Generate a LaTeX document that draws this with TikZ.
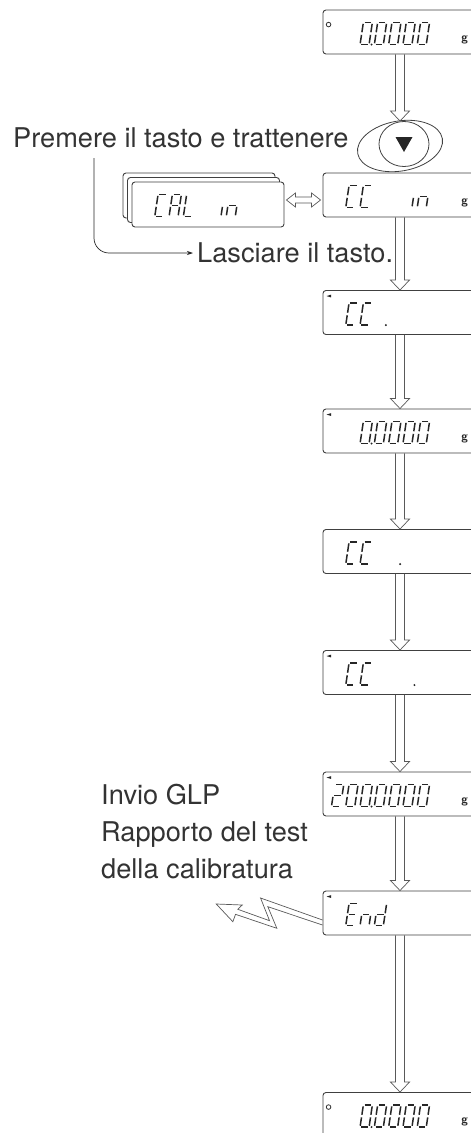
\documentclass[tikz,border=0pt]{standalone}
\usepackage{fontspec}
\setmainfont{TeX Gyre Heros}
\usetikzlibrary{shapes.geometric,arrows.meta,calc}
\def\sga{(1.3,22)--(7.7,22)}
\def\sgb{(9,20.7)--(9,12.3)}
\def\sgc{(9,9.7)--(9,1.3)}
\def\sgd{(1.3,0)--(7.7,0)}
\def\sge{(0,1.3)--(0,9.7)}
\def\sgf{(0,12.3)--(0,20.7)}
\def\sgg{(1.3,11)--(7.7,11)}
\newcommand\lcddig[2]{\begin{scope}[shift={(#1,-35)},xslant=0.15]\foreach \s in {#2}{\draw[seg] \csname sg\s\endcsname;}\end{scope}}
\newcommand\lcddot[1]{\fill[black!85] (#1,-35) circle (1.1pt);}
\newcommand\lcdring{\draw[line width=0.8pt,black!80] (6,-15) circle (2.3pt);}
\newcommand\lcdtick{\fill[black!85] (4,-6) -- (8.5,-4.6) -- (8.5,-7.4) -- cycle;}
\newcommand\lcdunit{\node[font=\sffamily\bfseries\fontsize{12}{12}\selectfont,inner sep=0pt,text=black!85] at (142,-30) {g};}
\newcommand\lcdzero{\lcddig{37.5}{a,b,c,d,e,f}\lcddot{49}\lcddig{51.8}{a,b,c,d,e,f}\lcddig{66.1}{a,b,c,d,e,f}\lcddig{80.4}{a,b,c,d,e,f}\lcddig{94.7}{a,b,c,d,e,f}}
\newcommand\lcdcc{\lcddig{23.2}{a,d,e,f}\lcddig{37.5}{a,d,e,f}}
\newcommand\downarr[2]{\draw[arr] let \p1=(#1.south), \p2=(#2.north) in (\x1-4.5pt,\y1) -- (\x1-4.5pt,\y2+10pt) -- (\x1-9.5pt,\y2+10pt) -- (\x1,\y2) -- (\x1+9.5pt,\y2+10pt) -- (\x1+4.5pt,\y2+10pt) -- (\x1+4.5pt,\y1);}
\tikzset{
 lcdbox/.style={draw=black!75, line width=0.9pt, rounded corners=3pt, minimum width=154pt, minimum height=44pt, inner sep=0pt, fill=white},
 seg/.style={line width=1.5pt, line cap=butt, draw=black!85},
 arr/.style={draw=black!65, line width=0.7pt},
 lbl/.style={font=\fontsize{27.2}{37}\selectfont, text=black!80, inner sep=0pt, anchor=base west},
}
\begin{document}
\begin{tikzpicture}[x=1pt,y=1pt]
\useasboundingbox (0,0) rectangle (471,-1133);
\clip (0,0) rectangle (471,-1133);
% displays
\node[lcdbox] (d1) at (400,-32) {};
\node[lcdbox] (d2) at (400,-195) {};
\node[lcdbox] (d3) at (400,-312.5) {};
\node[lcdbox] (d4) at (400,-431) {};
\node[lcdbox] (d5) at (400,-551.5) {};
\node[lcdbox] (d6) at (400,-672.5) {};
\node[lcdbox] (d7) at (400,-794) {};
\node[lcdbox] (d8) at (400,-913) {};
\node[lcdbox] (d9) at (400,-1114.5) {};
% CAL stack
\node[lcdbox, minimum width=152pt, minimum height=45pt] (cal3) at (199,-195.5) {};
\node[lcdbox, minimum width=152pt, minimum height=45pt] (cal2) at (203.5,-200) {};
\node[lcdbox, minimum width=152pt, minimum height=45pt] (cal) at (208,-204.5) {};
% contents
\begin{scope}[shift={(d1.north west)}]\lcdring\lcdzero\lcdunit\end{scope}
\begin{scope}[shift={(d2.north west)}]\lcdcc\lcddig{80.4}{c}\lcddig{94.7}{c,e,g}\lcdunit\end{scope}
\begin{scope}[shift={(d3.north west)}]\lcdtick\lcdcc\lcddot{63.3}\end{scope}
\begin{scope}[shift={(d4.north west)}]\lcdtick\lcdzero\lcdunit\end{scope}
\begin{scope}[shift={(d5.north west)}]\lcdcc\lcddot{77.6}\end{scope}
\begin{scope}[shift={(d6.north west)}]\lcdtick\lcdcc\lcddot{91.9}\end{scope}
\begin{scope}[shift={(d7.north west)}]\lcdtick\lcddig{8.9}{a,b,g,e,d}\lcddig{23.2}{a,b,c,d,e,f}\lcdzero\lcdunit\end{scope}
\begin{scope}[shift={(d8.north west)}]\lcdtick\lcddig{23.2}{a,d,e,f,g}\lcddig{37.5}{c,e,g}\lcddig{51.8}{b,c,d,e,g}\end{scope}
\begin{scope}[shift={(d9.north west)}]\lcdring\lcdzero\lcdunit\end{scope}
\begin{scope}[shift={(cal.north west)}]\lcddig{23.2}{a,d,e,f}\lcddig{37.5}{a,b,c,e,f,g}\lcddig{51.8}{d,e,f}\lcddig{80.4}{c}\lcddig{94.7}{c,e,g}\end{scope}
% button
\node[draw=black!75, line width=0.8pt, ellipse, minimum width=86pt, minimum height=50pt, rotate=10, inner sep=0pt] (btn) at (400,-146) {};
\node[draw=black!75, line width=0.8pt, ellipse, minimum width=50pt, minimum height=45pt, inner sep=0pt] (key) at (404,-144) {};
\fill[black!85] ($(key.center)+(-8.5,7)$) -- ($(key.center)+(8.5,7)$) -- ($(key.center)+(0,-8)$) -- cycle;
% arrows
\downarr{d1}{btn}
\downarr{d2}{d3}
\downarr{d3}{d4}
\downarr{d4}{d5}
\downarr{d5}{d6}
\downarr{d6}{d7}
\downarr{d7}{d8}
\downarr{d8}{d9}
\draw[arr] let \p1=(cal.east), \p2=(d2.west) in (\x1+2pt,\y2-5pt) -- ++(9pt,7pt) -- ++(0pt,-4pt) -- (\x2-11pt,\y2-2pt) -- ++(0pt,4pt) -- (\x2-2pt,\y2-5pt) -- ++(-9pt,-7pt) -- ++(0pt,4pt) -- (\x1+11pt,\y2-8pt) -- ++(0pt,-4pt) -- cycle;
% lightning
\begin{scope}[shift={(d8.west)}]
\draw[arr, line join=miter] (0,-7) -- (-62,15) -- (-53,-7.7) -- (-84.7,3.7) -- (-80.3,8) -- (-106.3,9) -- (-89.7,-8.7) -- (-87,-1.3) -- (-45.7,-15.3) -- (-54.7,6.3) -- (0,-12);
\end{scope}
% texts
\node[lbl] (premere) at (13,-147) {Premere il tasto e trattenere};
\node[lbl] (lasciare) at (197,-262) {Lasciare il tasto.};
\node[lbl] (glp1) at (101,-804) {Invio GLP};
\node[lbl] (glp2) at (101,-841) {Rapporto del test};
\node[lbl] (glp3) at (101,-878) {della calibratura};
\draw[black!85, line width=0.7pt, rounded corners=15pt, -{Stealth[length=6pt,width=4pt]}] ([xshift=81pt,yshift=-11pt]premere.base west) |- ([xshift=-4pt,yshift=9pt]lasciare.base west);
\end{tikzpicture}
\end{document}
